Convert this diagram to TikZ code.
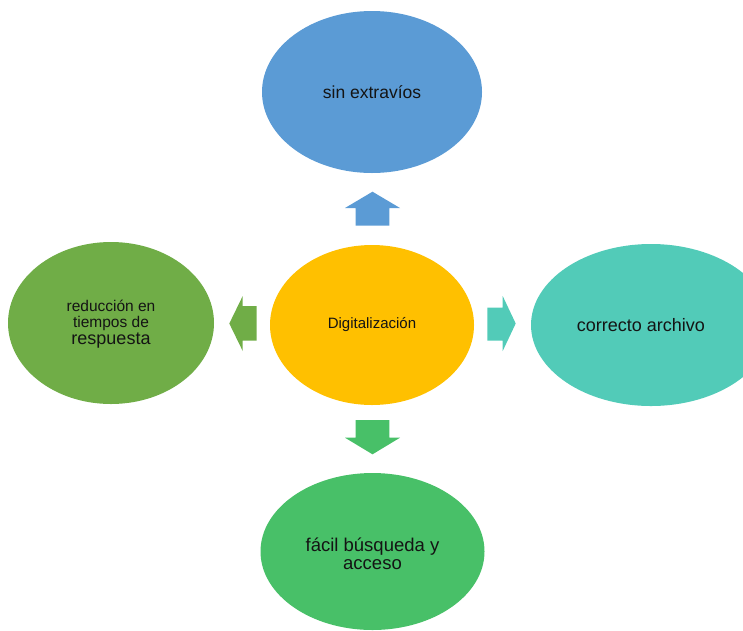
\documentclass[tikz,border=0pt]{standalone}
\usepackage{fontspec}
\setmainfont{Liberation Sans}
\usetikzlibrary{shapes.geometric}
\definecolor{azul}{HTML}{5B9BD5}
\definecolor{oro}{HTML}{FFC000}
\definecolor{verde}{HTML}{70AD47}
\definecolor{turquesa}{HTML}{52CBB8}
\definecolor{verdeclaro}{HTML}{48C068}
\definecolor{texto}{HTML}{141414}
\begin{document}
\begin{tikzpicture}[x=1pt, y=-1pt, line join=round,
    idea/.style={ellipse, inner sep=0pt, text=texto, align=center}]
  \clip (0,0) rectangle (743,630);
  % elipses
  \node[idea, fill=oro, minimum width=204pt, minimum height=160pt, font=\fontsize{15}{17}\selectfont] (dig) at (372,325) {Digitalización};
  \node[idea, fill=azul, minimum width=220pt, minimum height=162pt, font=\fontsize{17.5}{20}\selectfont] (sin) at (372,92) {sin extravíos};
  \node[idea, fill=turquesa, minimum width=240pt, minimum height=162pt] (arch) at (651,325) {};
  \node[font=\fontsize{18}{20}\selectfont, text=texto] (archt) at (641,325) {correcto archivo};
  \node[idea, fill=verde, minimum width=206pt, minimum height=162pt] (red) at (111,323) {};
  \node[text=texto, align=center, font=\fontsize{15.5}{16}\selectfont] (redt) at (111,324)
    {reducción en\\tiempos de\\[1pt]{\fontsize{18}{20}\selectfont respuesta}};
  \node[idea, fill=verdeclaro, minimum width=224pt, minimum height=157pt] (fac) at (372.5,551.5) {};
  \node[text=texto, align=center, font=\fontsize{18.5}{18.5}\selectfont] (fact) at (372.5,554) {fácil búsqueda y\\acceso};
  % flechas
  \fill[azul] (355.7,225.7) -- (355.7,208) -- (345,208) -- (372.5,191.7) -- (400,208) -- (389.3,208) -- (389.3,225.7) -- cycle;
  \fill[verdeclaro] (355.7,420) -- (355.7,437.7) -- (345,437.7) -- (372.5,454.3) -- (400,437.7) -- (389.3,437.7) -- (389.3,420) -- cycle;
  \fill[verde] (256.7,306) -- (242.7,306) -- (242.7,296) -- (229.3,323.5) -- (242.7,351) -- (242.7,340.7) -- (256.7,340.7) -- cycle;
  \fill[turquesa] (487.3,307.5) -- (502.7,307.5) -- (502.7,296) -- (515.7,323.5) -- (502.7,351) -- (502.7,340.7) -- (487.3,340.7) -- cycle;
\end{tikzpicture}
\end{document}
